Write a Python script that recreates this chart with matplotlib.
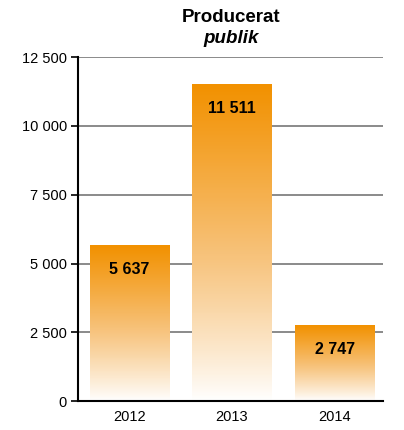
import numpy as np
import matplotlib
matplotlib.use("Agg")
import matplotlib.pyplot as plt
from matplotlib.colors import LinearSegmentedColormap

years = ["2012", "2013", "2014"]
values = [5637, 11511, 2747]
yticks = [0, 2500, 5000, 7500, 10000, 12500]

plt.rcParams['font.family'] = ['Liberation Sans', 'DejaVu Sans']

fig = plt.figure(figsize=(4.04, 4.30), dpi=100)
ax = fig.add_axes([0.193, 0.067, 0.755, 0.8])

cmap = LinearSegmentedColormap.from_list("fade", ["#ffffff", "#f7c27a", "#f29100"])
grad = np.linspace(0, 1, 256).reshape(-1, 1) ** 0.9

width = 0.77
x = np.arange(len(years))
for xi, v in zip(x, values):
    ax.imshow(grad, cmap=cmap, origin="lower", aspect="auto",
              extent=[xi - width / 2, xi + width / 2, 0, v], zorder=2)
    ax.annotate(f"{v:,}".replace(",", " "), (xi, v), xytext=(0, -17),
                textcoords="offset points", ha="center", va="center",
                fontsize=11.5, fontweight="bold", zorder=3)

ax.set_xlim(-0.5, 2.47)
ax.set_ylim(0, 12500)
ax.set_xticks(x)
ax.set_xticklabels(years)
ax.set_yticks(yticks)
ax.set_yticklabels([f"{t:,}".replace(",", " ") for t in yticks])
ax.tick_params(axis="y", length=5, width=1.2, labelsize=10.5, pad=3)
ax.tick_params(axis="x", length=0, labelsize=10.5, pad=6)
ax.yaxis.grid(True, color="#777777", linewidth=1.2, zorder=1)
ax.set_axisbelow(True)
for s in ["top", "right"]:
    ax.spines[s].set_visible(False)
ax.spines["left"].set_linewidth(1.5)
ax.spines["bottom"].set_linewidth(1.5)

fig.text(0.571, 0.96, "Producerat", ha="center", va="center",
         fontsize=13.5, fontweight="bold")
fig.text(0.571, 0.91, "publik", ha="center", va="center",
         fontsize=13.5, fontweight="bold", fontstyle="italic")

fig.savefig("out.png", dpi=100)
